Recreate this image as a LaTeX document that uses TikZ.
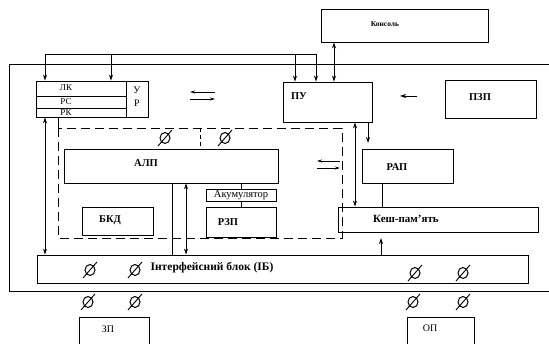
\documentclass[tikz,border=0pt]{standalone}
\usepackage{fontspec}
\setmainfont{Liberation Serif}
\usetikzlibrary{arrows.meta}

\tikzset{
  blk/.style={draw, line width=0.9pt, inner sep=0pt},
  wire/.style={line width=0.9pt},
  arr/.style={wire, -{Stealth[length=6pt,width=4pt]}},
  darr/.style={wire, {Stealth[length=6pt,width=4pt]}-{Stealth[length=6pt,width=4pt]}},
  sarr/.style={line width=0.8pt, -{Stealth[length=5pt,width=3pt]}},
  dsh/.style={line width=0.9pt, dash pattern=on 9pt off 5pt},
  lbl/.style={font=\fontsize{10.5}{12}\selectfont\bfseries, inner sep=0pt},
  reg/.style={font=\fontsize{9}{10}\selectfont, inner sep=0pt},
  zero/.style={draw, line width=1pt, ellipse, minimum width=10pt, minimum height=11pt, inner sep=0pt},
}

% box from its corners: name, x1, y1, x2, y2
\def\unitbox#1#2#3#4#5{
  \node[blk, minimum width={(#4)-(#2)}, minimum height={(#5)-(#3)}]
    (#1) at ({((#2)+(#4))/2},{((#3)+(#5))/2}) {};
}

\usetikzlibrary{shapes.geometric}

\begin{document}
\begin{tikzpicture}[x=1pt, y=-1pt]
  \clip (0,0) rectangle (549,344);

  % outer frame
  \draw[wire] (549,64) -- (9,64) -- (9,291) -- (549,291);

  % blocks
  \unitbox{kons}{321}{9}{488}{42}
  \unitbox{lk}{36}{81}{126}{96}
  \unitbox{rs}{36}{96}{126}{108}
  \unitbox{rk}{36}{108}{126}{117}
  \unitbox{ur}{126}{81}{148}{117}
  \unitbox{pu}{283}{82}{372}{122}
  \unitbox{pzp}{445}{80}{536}{118}
  \unitbox{alp}{64}{149}{278}{183}
  \unitbox{akum}{206}{189}{276}{201}
  \unitbox{rzp}{206}{207}{276}{237}
  \unitbox{bkd}{82}{207}{153}{235}
  \unitbox{rap}{362}{149}{453}{183}
  \unitbox{kesh}{338}{207}{538}{232}
  \unitbox{ib}{37}{255}{528}{283}
  \unitbox{zp}{79}{317}{149}{360}
  \unitbox{op}{407}{317}{474}{360}

  % texts
  \node[lbl, font=\fontsize{7.5}{9}\selectfont\bfseries] (t-kons) at (385,24) {Консоль};
  \node[reg] (t-lk) at (66,88) {ЛК};
  \node[reg] (t-rs) at (66,102) {РС};
  \node[reg] (t-rk) at (66,113) {РК};
  \node[reg, font=\fontsize{10}{11}\selectfont] (t-u) at (137,90) {У};
  \node[reg, font=\fontsize{10}{11}\selectfont] (t-r) at (137,103) {Р};
  \node[lbl] (t-pu) at (299,96) {ПУ};
  \node[lbl] (t-pzp) at (480,97) {ПЗП};
  \node[lbl] (t-alp) at (146,163) {АЛП};
  \node[reg, font=\fontsize{10.5}{11}\selectfont] (t-akum) at (akum.center) {Акумулятор};
  \node[lbl] (t-rzp) at (228,222) {РЗП};
  \node[lbl] (t-bkd) at (110,220) {БКД};
  \node[lbl] (t-rap) at (397,167) {РАП};
  \node[lbl, font=\fontsize{11}{12}\selectfont\bfseries] (t-kesh) at (406,219) {Кеш-пам'ять};
  \node[lbl, font=\fontsize{11.5}{12}\selectfont\bfseries] (t-ib) at (212,268) {Інтерфейсний блок (ІБ)};
  \node[reg, font=\fontsize{10}{11}\selectfont] (t-zp) at (108,329) {ЗП};
  \node[reg, font=\fontsize{10}{11}\selectfont] (t-op) at (430,328) {ОП};

  % zero signs
  \foreach \x/\y [count=\i] in {165/138, 225/138, 90/270, 135/270, 415/273,
      463/273, 88/302, 135/302, 413/302, 463/302}{
    \node[zero] (z\i) at (\x,\y) {};
    \draw[wire] ([shift={(-7,8)}]z\i.center) -- ([shift={(7,-8)}]z\i.center);
  }

  % bus at the top
  \coordinate (bus-l) at (45,54);
  \coordinate (bus-r) at (316,54);
  \draw[wire] (bus-l) -- (bus-r);
  \foreach \x in {45,111}
    \draw[arr] (\x,54) -- (\x,0 |- lk.north);
  \foreach \x in {295,316}
    \draw[arr] (\x,54) -- (\x,0 |- pu.north);
  \draw[darr] (334,0 |- kons.south) -- (334,0 |- pu.north);

  % free arrows
  \draw[sarr] (215,92) -- (190,92);
  \draw[sarr] (190,99) -- (215,99);
  \draw[sarr] (340,161) -- (317,161);
  \draw[sarr] (317,168) -- (340,168);
  \draw[arr] (417,96) -- (400,96);

  % dashed area
  \draw[wire] (58,0 |- rk.south) -- (58,128);
  \draw[dsh] (58,128) rectangle (342,238);
  \draw[line width=0.8pt, dash pattern=on 4pt off 3pt] (200,128) -- (200,0 |- alp.north);

  % links
  \draw[darr] (45,0 |- rk.south) -- (45,0 |- ib.north);
  \draw[wire] (172,0 |- alp.south) -- (172,0 |- ib.north);
  \draw[darr] (186,0 |- alp.south) -- (186,0 |- ib.north);
  \draw[wire] (akum.north) -- (akum.north |- alp.south);
  \draw[wire] (akum.south) -- (rzp.north);
  \draw[darr] (355,0 |- pu.south) -- (355,0 |- kesh.north);
  \draw[arr] (368,0 |- pu.south) -- (368,143);
  \draw[wire] (382,0 |- rap.south) -- (382,0 |- kesh.north);
  \draw[arr] (381,0 |- ib.north) -- (381,238);
\end{tikzpicture}
\end{document}
